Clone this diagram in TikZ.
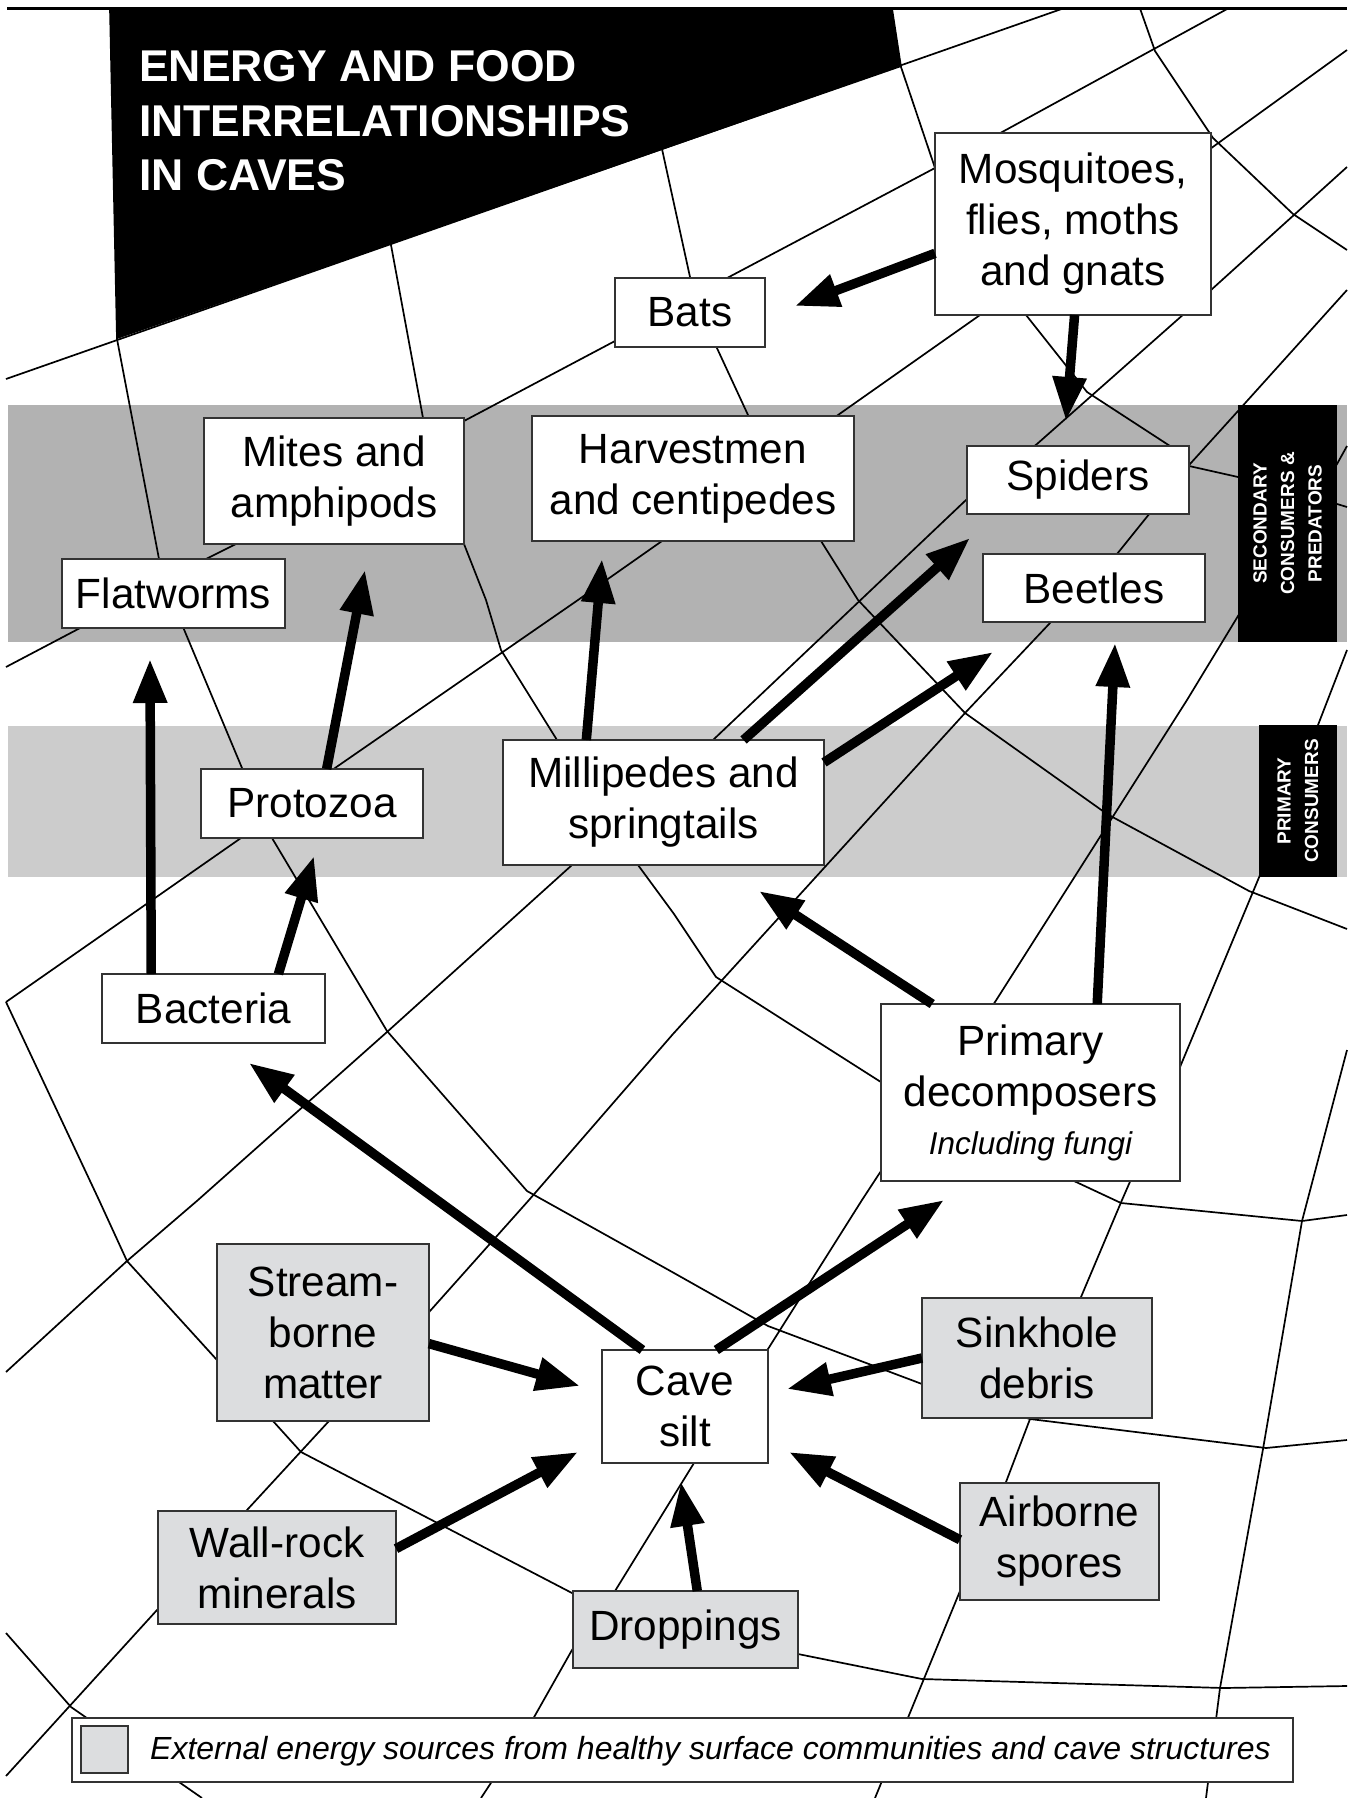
\documentclass[tikz,border=0pt]{standalone}
\usepackage{fontspec}
\setmainfont{Liberation Sans}
\usetikzlibrary{arrows.meta}
\definecolor{bandD}{RGB}{178,178,178}
\definecolor{bandL}{RGB}{204,204,204}
\definecolor{extgray}{RGB}{220,221,223}
\begin{document}
\begin{tikzpicture}[x=1pt,y=-1pt,
  web/.style={line width=1.7pt, line join=round},
  box/.style={draw=black!80, line width=1.5pt, fill=white, inner sep=0pt, outer sep=0pt, align=center, font=\fontsize{42.3pt}{51pt}\selectfont},
  ext/.style={box, fill=extgray},
  arr/.style={line width=9.5pt, -{Triangle[length=44pt,width=32pt]}},
  sidelab/.style={fill=black, inner sep=0pt, text=white, align=center, font=\fontsize{19pt}{27.5pt}\selectfont\bfseries},
  ttl/.style={anchor=base west, inner sep=0pt, text=white, font=\fontsize{44.5pt}{54.5pt}\selectfont\bfseries}]
\useasboundingbox (0,0) rectangle (1347,1798);
\fill[white] (0,0) rectangle (1347,1798);
% bands
\fill[bandD] (8,405) rectangle (1347,642);
\fill[bandL] (8,726) rectangle (1347,877);
% web lines
\draw[web] (6,379) -- (1063,8.5);
\draw[web] (6,667) -- (82,627) -- (206,559) -- (236,544) -- (464,421) -- (615,341) -- (729,277) -- (935,168) -- (1004,131) -- (1228,8.5);
\draw[web] (6,1002) -- (241,838) -- (335,768) -- (578,600) -- (662,541) -- (838,415) -- (980,315) -- (1210,149) -- (1347,50);
\draw[web] (6,1372) -- (127,1261) -- (198,1200) -- (387,1032) -- (572,865) -- (713,740) -- (966,500) -- (1037,444) -- (1211,290) -- (1347,167);
\draw[web] (6,1776) -- (157,1610) -- (247,1510) -- (329,1421) -- (430,1311) -- (529,1200) -- (673,1034) -- (965,713) -- (1050,623) -- (1117,554) -- (1150,513) -- (1190,464) -- (1238,411) -- (1347,290);
\draw[web] (1347,446) -- (1337,464) -- (1238,616) -- (1187,700) -- (995,1002) -- (879,1174) -- (862,1200) -- (768,1349) -- (694,1463) -- (673,1497) -- (615,1591) -- (572,1650) -- (533,1719) -- (481,1798);
\draw[web] (1347,650) -- (1260,875) -- (1180,1067) -- (1122,1200) -- (1081,1297) -- (1030,1419) -- (1006,1482) -- (960,1591) -- (875,1798);
\draw[web] (1347,1050) -- (1302,1221) -- (1263,1449) -- (1220,1688) -- (1206,1798);
\draw[web] (6,1633) -- (71,1707) -- (202,1798);
\draw[web] (1140,8.5) -- (1155,51) -- (1213,138) -- (1293,214) -- (1347,250);
\draw[web] (662,149) -- (690,277) -- (716,346) -- (748,415) -- (821,541) -- (858,600) -- (965,713) -- (1107,814) -- (1249,891) -- (1347,929);
\draw[web] (892,8.5) -- (901,67) -- (935,168) -- (1026,315) -- (1087,392) -- (1170,446) -- (1189,466) -- (1238,477) -- (1337,504) -- (1347,507);
\draw[web] (374,8.5) -- (391,245) -- (423,418) -- (464,544) -- (486,600) -- (501,650) -- (557,740) -- (638,865) -- (674,914) -- (716,977) -- (884,1084) -- (1074,1181) -- (1121,1203) -- (1302,1221) -- (1347,1215);
\draw[web] (110,8.5) -- (117,339) -- (159,559) -- (183,627) -- (242,768) -- (272,838) -- (387,1031) -- (527,1191) -- (674,1273) -- (768,1326) -- (922,1384) -- (1030,1419) -- (1266,1448) -- (1347,1440);
\draw[web] (6,1002) -- (99,1200) -- (127,1261) -- (217,1360) -- (273,1421) -- (301,1452) -- (572,1593) -- (798,1654) -- (922,1679) -- (1223,1688) -- (1347,1686);
% top rule
\draw[line width=2.3pt] (7,8.5) -- (1347,8.5);
% title block
\fill[black] (110,8.5) -- (892,8.5) -- (901,67) -- (117,339) -- cycle;
\node[ttl] (title1) at (139,82) {ENERGY AND FOOD};
\node[ttl] (title2) at (139,137) {INTERRELATIONSHIPS};
\node[ttl] (title3) at (139,191) {IN CAVES};
% side labels
\node[sidelab, rotate=90, minimum width=237pt, minimum height=99pt] (seclab) at (1287.5,523.5) {SECONDARY\\CONSUMERS \&\\PREDATORS};
\node[sidelab, rotate=90, minimum width=152pt, minimum height=78pt] (primlab) at (1298,801) {PRIMARY\\CONSUMERS};
% boxes
\node[box, minimum width=276pt, minimum height=182pt] (mosq) at (1073,224) {Mosquitoes,\\flies, moths\\and gnats};
\node[box, minimum width=150pt, minimum height=69pt] (bats) at (690,312.5) {Bats};
\node[box, minimum width=260pt, minimum height=126pt] (mites) at (334,481) {Mites and\\amphipods};
\node[box, minimum width=322pt, minimum height=125pt] (harv) at (693,478.5) {Harvestmen\\and centipedes};
\node[box, minimum width=222pt, minimum height=68pt] (spiders) at (1078,480) {Spiders};
\node[box, minimum width=222pt, minimum height=68pt] (beetles) at (1094,588) {Beetles};
\node[box, minimum width=223pt, minimum height=69pt] (flat) at (173.5,593.5) {Flatworms};
\node[box, minimum width=222pt, minimum height=69pt] (proto) at (312,803.5) {Protozoa};
\node[box, minimum width=321pt, minimum height=125pt] (mill) at (663.5,802.5) {Millipedes and\\springtails};
\node[box, minimum width=223pt, minimum height=69pt] (bact) at (213.5,1008.5) {Bacteria};
\node[box, minimum width=299pt, minimum height=177pt] (pd) at (1030.5,1092.5) {Primary\\decomposers\\[-3pt]{\fontsize{31.5pt}{36pt}\selectfont\itshape Including fungi}};
\node[ext, minimum width=212pt, minimum height=177pt] (stream) at (323,1332.5) {Stream-\\borne\\matter};
\node[ext, minimum width=238pt, minimum height=113pt] (wall) at (277,1567.5) {Wall-rock\\minerals};
\node[ext, minimum width=225pt, minimum height=77pt] (drop) at (685.5,1629.5) {Droppings};
\node[box, minimum width=166pt, minimum height=113pt] (silt) at (685,1406.5) {Cave\\silt};
\node[ext, minimum width=230pt, minimum height=120pt] (sink) at (1037,1358) {Sinkhole\\debris};
\node[ext, minimum width=199pt, minimum height=117pt] (air) at (1059.5,1541.5) {Airborne\\spores};
% arrow tips
\coordinate (t1) at (795,306);
\coordinate (t2) at (1066,421);
\coordinate (t3) at (150,659);
\coordinate (t4) at (365,570);
\coordinate (t5) at (314,856);
\coordinate (t6) at (602,559);
\coordinate (t7) at (970,538);
\coordinate (t8) at (993,652);
\coordinate (t9) at (1115,643);
\coordinate (t10) at (759,891);
\coordinate (t11) at (249,1063);
\coordinate (t12) at (944,1200);
\coordinate (t13) at (580,1386);
\coordinate (t14) at (787,1389);
\coordinate (t15) at (578,1452);
\coordinate (t16) at (789,1452);
\coordinate (t17) at (681,1482);
% arrows
\draw[arr] (mosq.192) -- (t1);
\draw[arr] (mosq.271) -- (t2);
\draw[arr] (bact.151.5) -- (t3);
\draw[arr] (proto.67) -- (t4);
\draw[arr] (bact.28.5) -- (t5);
\draw[arr] (mill.141.5) -- (t6);
\draw[arr] (mill.38.5) -- (t7);
\draw[arr] (mill.14.5) -- (t8);
\draw[arr] (pd.53.5) -- (t9);
\draw[arr] (pd.138.3) -- (t10);
\draw[arr] (silt.127.9) -- (t11);
\draw[arr] (silt.61.25) -- (t12);
\draw[arr] (stream.354.3) -- (t13);
\draw[arr] (sink.180.5) -- (t14);
\draw[arr] (wall.9.8) -- (t15);
\draw[arr] (air.179.7) -- (t16);
\draw[arr] (drop.73.4) -- (t17);
% legend
\node[draw=black!80, line width=1.5pt, fill=white, inner sep=0pt, minimum width=1221pt, minimum height=64pt] (legend) at (682.5,1750) {};
\node[draw=black!80, line width=1.5pt, fill=extgray, inner sep=0pt, minimum width=47pt, minimum height=47pt] (legsw) at (104.5,1749.5) {};
\node[anchor=base west, inner sep=0pt, font=\fontsize{32pt}{38pt}\selectfont\itshape] (legtxt) at (150,1759) {External energy sources from healthy surface communities and cave structures};
\end{tikzpicture}
\end{document}
